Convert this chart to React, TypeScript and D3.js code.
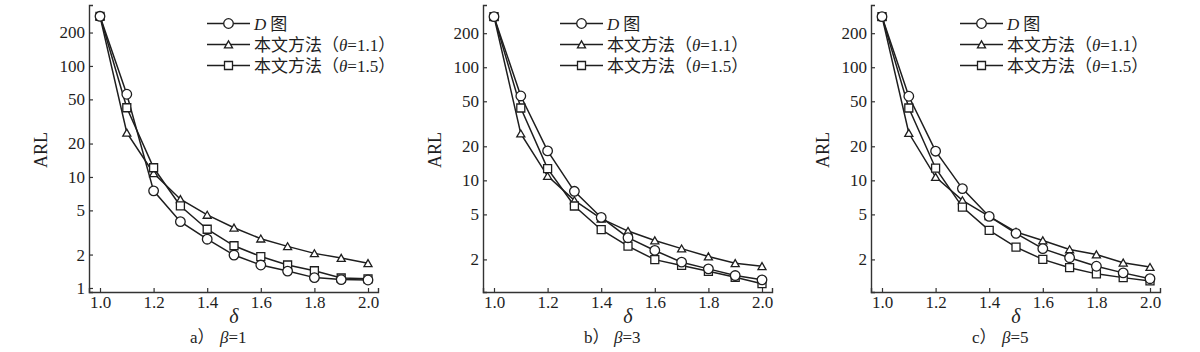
import { useEffect, useRef } from "react";
import * as d3 from "d3";

// shift δ (x) and ARL values
const deltas = [1.0, 1.1, 1.2, 1.3, 1.4, 1.5, 1.6, 1.7, 1.8, 1.9, 2.0];
const seriesNames = ["图", "本文方法（θ=1.1）", "本文方法（θ=1.5）"];
const captionLetters = ["a）", "b）", "c）"];
const captionBetas = ["β=1", "β=3", "β=5"];

// beta = 1
const arlB1D = [280, 55.6, 7.5, 3.96, 2.75, 1.98, 1.61, 1.42, 1.24, 1.19, 1.18];
const arlB1T11 = [280, 25, 10.8, 6.3, 4.55, 3.49, 2.78, 2.37, 2.05, 1.86, 1.67];
const arlB1T15 = [280, 42, 12.1, 5.48, 3.38, 2.4, 1.92, 1.61, 1.43, 1.23, 1.21];
// beta = 3
const arlB3D = [280, 55.7, 18.2, 8.0, 4.7, 3.11, 2.4, 1.89, 1.65, 1.44, 1.32];
const arlB3T11 = [280, 25.9, 10.9, 6.65, 4.58, 3.56, 2.94, 2.49, 2.12, 1.85, 1.74];
const arlB3T15 = [280, 43.6, 12.7, 5.93, 3.66, 2.62, 1.99, 1.77, 1.57, 1.39, 1.22];
// beta = 5
const arlB5D = [280, 55.4, 18.1, 8.45, 4.8, 3.4, 2.49, 2.07, 1.74, 1.52, 1.35];
const arlB5T11 = [280, 26.2, 10.7, 6.65, 4.8, 3.5, 2.94, 2.45, 2.21, 1.87, 1.71];
const arlB5T15 = [280, 43.6, 12.8, 5.8, 3.61, 2.57, 2.0, 1.69, 1.49, 1.38, 1.29];

const xTicks = [1.0, 1.2, 1.4, 1.6, 1.8, 2.0];
const yTicksA = [1, 2, 5, 10, 20, 50, 100, 200];
const yTicksBC = [2, 5, 10, 20, 50, 100, 200];

const SERIF = "'Liberation Serif', 'Noto Sans CJK SC', serif";
const CJK = "'Liberation Serif', 'Noto Sans CJK SC', sans-serif";
const INK = "#1e1e1e";

const TOP = 5;
const BOTTOM = 292;
const PW = 268;

const symbols = [d3.symbolCircle, d3.symbolTriangle, d3.symbolSquare];
const symbolSizes = [72, 28, 64];

const panels = [
  { x0: 100, legendX: 207, yMin: 0.92, yMax: 354, yTicks: yTicksA, series: [arlB1D, arlB1T11, arlB1T15] },
  { x0: 494, legendX: 560, yMin: 1.03, yMax: 355, yTicks: yTicksBC, series: [arlB3D, arlB3T11, arlB3T15] },
  { x0: 882, legendX: 960, yMin: 1.03, yMax: 355, yTicks: yTicksBC, series: [arlB5D, arlB5T11, arlB5T15] },
];

// render a label, setting Greek letters in italic serif
function labelParts(text: string) {
  return text.split(/([θβ])/).map((part, i) =>
    part === "θ" || part === "β" ? (
      <tspan key={i} fontStyle="italic" fontFamily={SERIF}>
        {part}
      </tspan>
    ) : (
      <tspan key={i}>{part}</tspan>
    )
  );
}

function Panel({ p, idx }: { p: any; idx: number }) {
  const xAxisRef = useRef<SVGGElement>(null);
  const yAxisRef = useRef<SVGGElement>(null);

  const x = d3.scaleLinear().domain([1, 2]).range([p.x0, p.x0 + PW]);
  const y = d3.scaleLog().domain([p.yMin, p.yMax]).range([BOTTOM, TOP]);
  const left = p.x0 - 11;
  const right = p.x0 + PW + 10;
  // axis scale spans the whole drawn axis so the end ticks sit at its ends
  const xa = d3.scaleLinear().domain([x.invert(left), x.invert(right)]).range([left, right]);

  useEffect(() => {
    const gx = d3.select(xAxisRef.current);
    gx.call(
      d3.axisBottom(xa)
        .tickValues(xTicks)
        .tickFormat(d3.format(".1f"))
        .tickSizeInner(-4)
        .tickSizeOuter(-4)
        .tickPadding(4)
    );
    const gy = d3.select(yAxisRef.current);
    gy.call(
      d3.axisLeft(y)
        .tickValues(p.yTicks)
        .tickFormat(d3.format("d"))
        .tickSizeInner(-4)
        .tickSizeOuter(-4)
        .tickPadding(4)
    );
    [gx, gy].forEach((g) => {
      g.attr("font-family", SERIF).attr("font-size", 17);
      g.selectAll("path.domain").attr("stroke", "#333").attr("stroke-width", 1.4);
      g.selectAll(".tick line").attr("stroke", "#333").attr("stroke-width", 1.2);
      g.selectAll(".tick text").attr("fill", INK);
    });
  }, []);

  const line = d3
    .line<number>()
    .x((d, i) => x(deltas[i]))
    .y((d) => y(d));

  const drawOrder = [1, 2, 0];

  return (
    <g>
      <g ref={xAxisRef} transform={`translate(0,${BOTTOM})`} />
      <g ref={yAxisRef} transform={`translate(${left},0)`} />
      {drawOrder.map((s) => (
        <path key={"l" + s} d={line(p.series[s]) || ""} fill="none" stroke={INK} strokeWidth={1.5} />
      ))}
      {drawOrder.map((s) =>
        p.series[s].map((v: number, i: number) => (
          <path
            key={"m" + s + "-" + i}
            d={d3.symbol().type(symbols[s]).size(symbolSizes[s])() || ""}
            transform={`translate(${x(deltas[i])},${y(v) + (s === 1 ? 1 : 0)})`}
            fill="#fff"
            stroke={INK}
            strokeWidth={1.3}
          />
        ))
      )}
      {/* legend */}
      {seriesNames.map((name, s) => {
        const ry = 23.5 + s * 21;
        return (
          <g key={"lg" + s}>
            <line x1={p.legendX} x2={p.legendX + 43} y1={ry} y2={ry} stroke={INK} strokeWidth={1.4} />
            <path
              d={d3.symbol().type(symbols[s]).size(symbolSizes[s])() || ""}
              transform={`translate(${p.legendX + 21.5},${ry + (s === 1 ? 1 : 0)})`}
              fill="#fff"
              stroke={INK}
              strokeWidth={1.3}
            />
            <text x={p.legendX + 47} y={ry + 6} fontSize={17} fontFamily={CJK} fill={INK}>
              {s === 0 ? (
                <>
                  <tspan fontStyle="italic" fontFamily={SERIF}>D</tspan>
                  <tspan dx={4}>{name}</tspan>
                </>
              ) : (
                labelParts(name)
              )}
            </text>
          </g>
        );
      })}
      {/* axis titles */}
      <text
        transform={`translate(${left - 42},150) rotate(-90)`}
        textAnchor="middle"
        fontSize={18}
        fontFamily={SERIF}
        fill={INK}
      >
        ARL
      </text>
      <text x={p.x0 + PW / 2} y={323} textAnchor="middle" fontSize={20} fontStyle="italic" fontFamily={SERIF} fill={INK}>
        δ
      </text>
      <text y={343} fontSize={17} fontFamily={CJK} fill={INK}>
        <tspan x={p.x0 + 90}>{captionLetters[idx]}</tspan>
        <tspan x={p.x0 + 120} fontFamily={SERIF}>
          {labelParts(captionBetas[idx])}
        </tspan>
      </text>
    </g>
  );
}

export default function App() {
  return (
    <svg
      width={1200}
      height={352}
      style={{ position: "absolute", left: 0, top: 0, background: "#fff" }}
    >
      <rect width={1200} height={352} fill="#fff" />
      {panels.map((p, i) => (
        <Panel key={i} p={p} idx={i} />
      ))}
    </svg>
  );
}
